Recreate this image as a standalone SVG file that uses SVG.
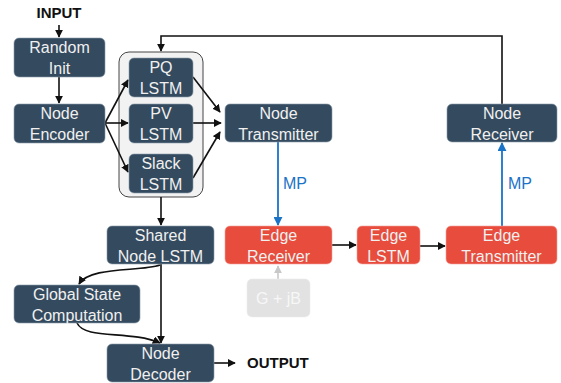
<svg xmlns="http://www.w3.org/2000/svg" width="561" height="383" viewBox="0 0 561 383">
  <defs>
    <marker id="ah" viewBox="0 0 10 10" refX="9" refY="5" markerWidth="5" markerHeight="5" orient="auto">
      <path d="M0,0 L10,5 L0,10 z" fill="#111"/>
    </marker>
    <marker id="ahBlue" viewBox="0 0 10 10" refX="9" refY="5" markerWidth="5" markerHeight="5" orient="auto">
      <path d="M0,0 L10,5 L0,10 z" fill="#1a73c7"/>
    </marker>
    <marker id="ahGray" viewBox="0 0 10 10" refX="9" refY="5" markerWidth="5" markerHeight="5" orient="auto">
      <path d="M0,0 L10,5 L0,10 z" fill="#c8c8c8"/>
    </marker>
  </defs>
  <style>
    .dark { fill: #344a5e; stroke: #8a9aaa; stroke-width: 0.6; }
    .red { fill: #e74c3c; stroke: #f3a29a; stroke-width: 0.6; }
    .light { fill: #e2e2e2; stroke: #ececec; stroke-width: 0.6; }
    .lbl { font-family: "Liberation Sans", Arial, sans-serif; font-size: 16px; fill: #f0f0f0; text-anchor: middle; }
    .lblLight { font-family: "Liberation Sans", Arial, sans-serif; font-size: 16px; fill: #f7f7f7; text-anchor: middle; }
    .io { font-family: "Liberation Sans", Arial, sans-serif; font-size: 15px; font-weight: bold; fill: #111; }
    .mp { font-family: "Liberation Sans", Arial, sans-serif; font-size: 16px; fill: #1a73c7; }
    .edge { fill: none; stroke: #111; stroke-width: 1.6; marker-end: url(#ah); }
    .edgeBlue { fill: none; stroke: #1a73c7; stroke-width: 1.8; marker-end: url(#ahBlue); }
    .edgeGray { fill: none; stroke: #c8c8c8; stroke-width: 1.6; marker-end: url(#ahGray); }
  </style>

  <rect width="561" height="383" fill="#ffffff"/>

  <!-- LSTM container -->
  <g id="lstm-group">
    <rect x="119" y="52" width="84" height="145" rx="10" fill="#f2f2f2" stroke="#444" stroke-width="1"/>
  </g>

  <!-- connectors -->
  <g id="connectors">
    <path class="edge" d="M59,25 L59,37"/>
    <path class="edge" d="M59,77 L59,103"/>
    <path class="edge" d="M105,123 L128,80"/>
    <path class="edge" d="M105,123 L128,123"/>
    <path class="edge" d="M105,123 L128,172"/>
    <path class="edge" d="M193,77 L220,112"/>
    <path class="edge" d="M193,123 L221,123"/>
    <path class="edge" d="M193,178 L220,132"/>
    <path class="edge" d="M502,104 L502,36 L161,36 L161,51"/>
    <path class="edgeBlue" d="M278,142 L278,225"/>
    <path class="edgeBlue" d="M502,226 L502,143"/>
    <path class="edge" d="M332,245 L356,245"/>
    <path class="edge" d="M420,246 L445,246"/>
    <path class="edgeGray" d="M278,279 L278,266"/>
    <path class="edge" d="M161,197 L161,225"/>
    <path class="edge" d="M161,264 L161,343"/>
    <path class="edge" d="M160,265 C140,272 90,266 79,284"/>
    <path class="edge" d="M77,323 C85,340 130,330 160,343"/>
    <path class="edge" d="M214,363 L235,363"/>
  </g>

  <!-- edge labels / io labels -->
  <text class="io" x="59" y="18" text-anchor="middle">INPUT</text>
  <text class="io" x="247" y="368">OUTPUT</text>
  <text class="mp" x="283" y="189">MP</text>
  <text class="mp" x="508" y="189">MP</text>

  <!-- nodes -->
  <g id="random-init">
    <rect class="dark" x="14" y="38" width="91" height="39" rx="5"/>
    <text class="lbl" x="59.5" y="53">Random</text>
    <text class="lbl" x="59.5" y="74">Init</text>
  </g>
  <g id="node-encoder">
    <rect class="dark" x="14" y="104" width="91" height="39" rx="5"/>
    <text class="lbl" x="59.5" y="119">Node</text>
    <text class="lbl" x="59.5" y="140">Encoder</text>
  </g>
  <g id="pq-lstm">
    <rect class="dark" x="129" y="58" width="64" height="39" rx="5"/>
    <text class="lbl" x="161" y="73">PQ</text>
    <text class="lbl" x="161" y="94">LSTM</text>
  </g>
  <g id="pv-lstm">
    <rect class="dark" x="129" y="104" width="64" height="39" rx="5"/>
    <text class="lbl" x="161" y="119">PV</text>
    <text class="lbl" x="161" y="140">LSTM</text>
  </g>
  <g id="slack-lstm">
    <rect class="dark" x="129" y="154" width="64" height="39" rx="5"/>
    <text class="lbl" x="161" y="169">Slack</text>
    <text class="lbl" x="161" y="190">LSTM</text>
  </g>
  <g id="node-transmitter">
    <rect class="dark" x="225" y="104" width="107" height="38" rx="5"/>
    <text class="lbl" x="278.5" y="119">Node</text>
    <text class="lbl" x="278.5" y="140">Transmitter</text>
  </g>
  <g id="node-receiver">
    <rect class="dark" x="447" y="104" width="110" height="38" rx="5"/>
    <text class="lbl" x="502" y="119">Node</text>
    <text class="lbl" x="502" y="140">Receiver</text>
  </g>
  <g id="shared-node-lstm">
    <rect class="dark" x="107" y="226" width="107" height="38" rx="5"/>
    <text class="lbl" x="160.5" y="241">Shared</text>
    <text class="lbl" x="160.5" y="262">Node LSTM</text>
  </g>
  <g id="edge-receiver">
    <rect class="red" x="225" y="226" width="107" height="38" rx="5"/>
    <text class="lbl" x="278.5" y="241">Edge</text>
    <text class="lbl" x="278.5" y="262">Receiver</text>
  </g>
  <g id="edge-lstm">
    <rect class="red" x="357" y="226" width="63" height="38" rx="5"/>
    <text class="lbl" x="388.5" y="241">Edge</text>
    <text class="lbl" x="388.5" y="262">LSTM</text>
  </g>
  <g id="edge-transmitter">
    <rect class="red" x="446" y="226" width="111" height="38" rx="5"/>
    <text class="lbl" x="501.5" y="241">Edge</text>
    <text class="lbl" x="501.5" y="262">Transmitter</text>
  </g>
  <g id="admittance">
    <rect class="light" x="247" y="279" width="63" height="38" rx="5"/>
    <text class="lblLight" x="278.5" y="304">G + jB</text>
  </g>
  <g id="global-state">
    <rect class="dark" x="14" y="285" width="126" height="38" rx="5"/>
    <text class="lbl" x="77" y="300">Global State</text>
    <text class="lbl" x="77" y="321">Computation</text>
  </g>
  <g id="node-decoder">
    <rect class="dark" x="107" y="344" width="107" height="38" rx="5"/>
    <text class="lbl" x="160.5" y="359">Node</text>
    <text class="lbl" x="160.5" y="380">Decoder</text>
  </g>
</svg>
